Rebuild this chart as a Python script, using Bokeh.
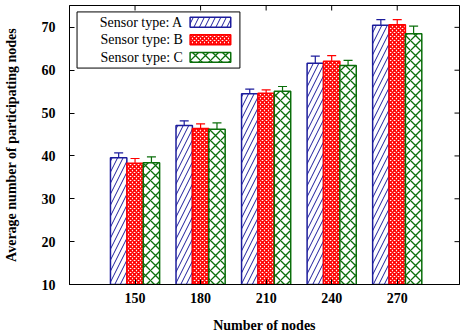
import math
from bokeh.plotting import figure
from bokeh.models import (ColumnDataSource, Range1d, FixedTicker, Whisker, TeeHead,
                          BoxAnnotation, Label)
from bokeh.embed import file_html
from bokeh.resources import INLINE

categories = ["150", "180", "210", "240", "270"]
series_names = ["Sensor type: A", "Sensor type: B", "Sensor type: C"]
values_a = [39.6, 47.1, 54.5, 61.6, 70.5]
values_b = [38.3, 46.4, 54.6, 62.1, 70.6]
values_c = [38.4, 46.2, 55.1, 61.1, 68.5]
err_a = [1.1, 1.1, 1.1, 1.7, 1.3]
err_b = [1.1, 1.1, 0.8, 1.3, 1.2]
err_c = [1.4, 1.5, 1.1, 1.2, 1.8]
y_ticks = [10, 20, 30, 40, 50, 60, 70]

FONT = "serif"
colors = ["#1c1c9c", "#ff0000", "#0a6e0a"]
hatches = [("/", 11, 1.0), ("x", 4, 1.6), ("x", 10, 1.3)]
offsets = [-0.25, 0.0, 0.25]
bar_w = 0.25
X0, X1, Y0, Y1 = -1.0, 4.95, 10, 75.1

p = figure(width=460, height=335, output_backend="svg", toolbar_location=None,
           x_range=Range1d(X0, X1), y_range=Range1d(Y0, Y1),
           min_border_left=69, min_border_right=1, min_border_top=5, min_border_bottom=49)
p.outline_line_color = "black"
p.outline_line_width = 1
p.xgrid.visible = False
p.ygrid.visible = False
p.background_fill_color = "white"
p.border_fill_color = "white"

idx = list(range(len(categories)))
for k, (vals, errs) in enumerate([(values_a, err_a), (values_b, err_b), (values_c, err_c)]):
    xs = [i + offsets[k] for i in idx]
    src = ColumnDataSource(dict(x=xs, top=vals,
                                upper=[v + e for v, e in zip(vals, errs)],
                                lower=[v - e for v, e in zip(vals, errs)]))
    pat, sc, wt = hatches[k]
    p.vbar(x="x", top="top", bottom=Y0, width=bar_w, source=src,
           fill_color="white", line_color=colors[k], line_width=1.5,
           hatch_pattern=pat, hatch_color=colors[k], hatch_scale=sc, hatch_weight=wt)
    w = Whisker(base="x", upper="upper", lower="lower", source=src,
                line_color=colors[k], line_width=1.2,
                upper_head=TeeHead(size=9, line_color=colors[k], line_width=1.2),
                lower_head=TeeHead(size=9, line_color=colors[k], line_width=1.2))
    p.add_layout(w)

# axes
p.xaxis.ticker = FixedTicker(ticks=idx)
p.xaxis.major_label_overrides = {i: c for i, c in enumerate(categories)}
p.yaxis.ticker = FixedTicker(ticks=y_ticks)
for ax in [p.xaxis[0], p.yaxis[0]]:
    ax.major_label_text_font = FONT
    ax.major_label_text_font_style = "bold"
    ax.major_label_text_font_size = "14px"
    ax.major_label_text_color = "black"
    ax.axis_label_text_font = FONT
    ax.axis_label_text_font_style = "bold"
    ax.axis_label_text_font_size = "14px"
    ax.axis_label_text_color = "black"
    ax.major_tick_out = 0
    ax.major_tick_in = 5
    ax.minor_tick_out = 0
    ax.minor_tick_in = 0
    ax.axis_line_color = "black"
    ax.major_tick_line_color = "black"
p.xaxis.axis_label = "Number of nodes"
p.yaxis.axis_label = "Average number of participating nodes"
p.yaxis.major_label_standoff = 14
p.yaxis.axis_label_standoff = 20
p.xaxis.major_label_standoff = 8
p.xaxis.axis_label_standoff = 12

# mirrored ticks on top and right (short rays of fixed screen length)
p.ray(x=idx, y=[Y1] * len(idx), length=5, length_units="screen",
      angle=-math.pi / 2, line_color="black", line_width=1)
p.ray(x=[X1] * len(y_ticks), y=y_ticks, length=5, length_units="screen",
      angle=math.pi, line_color="black", line_width=1)

# legend (gnuplot style: text then swatch)
p.add_layout(BoxAnnotation(left=-0.885, right=1.6, top=73.6, bottom=60.5,
                           fill_color="white", fill_alpha=1.0,
                           line_color="black", line_width=1, line_alpha=1.0))
leg_y = [71.2, 67.1, 63.0]
for k in range(3):
    p.add_layout(Label(x=0.73, y=leg_y[k], text=series_names[k], text_align="right",
                       text_baseline="middle", text_font=FONT, text_font_size="14px",
                       text_color="black"))
    pat, sc, wt = hatches[k]
    p.add_layout(BoxAnnotation(left=0.84, right=1.46, top=leg_y[k] + 1.15, bottom=leg_y[k] - 1.15,
                               fill_color="white", fill_alpha=1.0,
                               line_color=colors[k], line_width=1.5, line_alpha=1.0,
                               hatch_pattern=pat, hatch_color=colors[k],
                               hatch_scale=sc, hatch_weight=wt))

open("out.html", "w").write(file_html(p, INLINE))
